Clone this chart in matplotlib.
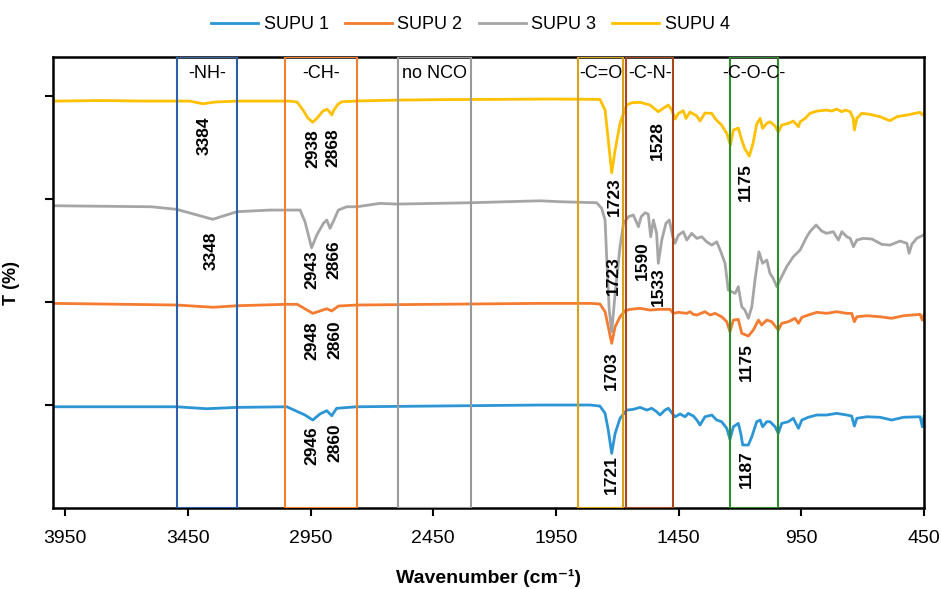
#!/usr/bin/env python3

import matplotlib
matplotlib.use("Agg")
import matplotlib.pyplot as plt

plt.rcParams["font.family"] = ["Liberation Sans", "DejaVu Sans"]

SERIES_NAMES = ["SUPU 1", "SUPU 2", "SUPU 3", "SUPU 4"]
SERIES_COLORS = ["#2B95D6", "#F47B30", "#A5A5A5", "#FFC000"]

# spectra: (wavenumber, stacked T value)
supu1_wn = [4000, 3496, 3374, 3250, 3047, 2973, 2941, 2912, 2884, 2864, 2844, 2762, 2015, 1811,
            1771, 1750, 1737, 1723, 1709, 1689, 1662, 1635, 1607, 1580, 1560, 1540, 1526, 1506,
            1492, 1478, 1465, 1444, 1424, 1411, 1390, 1376, 1363, 1343, 1315, 1295, 1275, 1254,
            1241, 1227, 1207, 1197, 1189, 1166, 1152, 1132, 1118, 1108, 1091, 1078, 1057, 1044,
            1030, 1003, 983, 962, 948, 922, 887, 847, 806, 765, 745, 734, 724, 683, 629, 582,
            534, 466, 457, 450]
supu1_t = [0.983, 0.983, 0.964, 0.977, 0.983, 0.903, 0.854, 0.913, 0.945, 0.896, 0.968, 0.983,
           1.000, 1.000, 0.990, 0.919, 0.757, 0.531, 0.725, 0.871, 0.951, 0.958, 0.977, 0.951,
           0.968, 0.935, 0.903, 0.951, 0.968, 0.925, 0.886, 0.913, 0.886, 0.919, 0.893, 0.854,
           0.806, 0.886, 0.903, 0.854, 0.838, 0.774, 0.667, 0.789, 0.822, 0.725, 0.612, 0.612,
           0.692, 0.838, 0.854, 0.789, 0.838, 0.838, 0.789, 0.725, 0.822, 0.838, 0.871, 0.774,
           0.854, 0.881, 0.903, 0.903, 0.919, 0.903, 0.893, 0.796, 0.871, 0.886, 0.881, 0.854,
           0.881, 0.886, 0.789, 0.890]

supu2_wn = [4000, 3496, 3347, 3250, 3047, 3005, 2941, 2884, 2864, 2837, 2762, 2015, 1811, 1771,
            1750, 1737, 1723, 1709, 1689, 1669, 1648, 1607, 1567, 1526, 1485, 1472, 1451, 1417,
            1404, 1390, 1376, 1343, 1322, 1302, 1275, 1254, 1241, 1227, 1207, 1193, 1166, 1146,
            1125, 1112, 1091, 1071, 1044, 1030, 1003, 976, 962, 948, 922, 887, 847, 806, 765,
            745, 734, 724, 683, 629, 582, 534, 466, 457, 450]
supu2_t = [1.987, 1.971, 1.949, 1.964, 1.978, 1.978, 1.890, 1.935, 1.913, 1.961, 1.971, 1.987,
           1.987, 1.981, 1.906, 1.760, 1.599, 1.760, 1.857, 1.915, 1.929, 1.939, 1.922, 1.929,
           1.929, 1.890, 1.900, 1.890, 1.906, 1.880, 1.874, 1.906, 1.874, 1.890, 1.857, 1.809,
           1.712, 1.825, 1.832, 1.696, 1.670, 1.728, 1.825, 1.777, 1.825, 1.809, 1.728, 1.793,
           1.809, 1.842, 1.793, 1.851, 1.874, 1.900, 1.890, 1.906, 1.890, 1.890, 1.809, 1.857,
           1.867, 1.857, 1.842, 1.867, 1.880, 1.825, 1.880]

supu3_wn = [4000, 3800, 3600, 3496, 3420, 3349, 3300, 3250, 3116, 3047, 2993, 2973, 2946, 2925,
            2898, 2884, 2871, 2858, 2837, 2803, 2762, 2667, 2599, 2300, 2015, 1934, 1784, 1764,
            1750, 1743, 1733, 1723, 1709, 1689, 1675, 1655, 1635, 1614, 1603, 1587, 1574, 1564,
            1553, 1540, 1533, 1519, 1502, 1488, 1474, 1465, 1451, 1431, 1417, 1397, 1376, 1356,
            1336, 1315, 1295, 1281, 1261, 1248, 1234, 1220, 1207, 1193, 1180, 1166, 1152, 1139,
            1123, 1108, 1091, 1078, 1065, 1050, 1037, 1010, 983, 955, 928, 915, 890, 867, 847,
            820, 799, 785, 765, 751, 738, 724, 697, 663, 622, 589, 548, 520, 511, 500, 480, 453]
supu3_t = [2.935, 2.930, 2.925, 2.900, 2.850, 2.803, 2.840, 2.877, 2.893, 2.893, 2.893, 2.780,
           2.527, 2.650, 2.764, 2.796, 2.716, 2.780, 2.893, 2.925, 2.925, 2.958, 2.951, 2.964,
           2.983, 2.974, 2.964, 2.910, 2.796, 2.408, 1.922, 1.709, 2.084, 2.537, 2.764, 2.828,
           2.845, 2.731, 2.828, 2.867, 2.854, 2.634, 2.796, 2.667, 2.376, 2.602, 2.764, 2.796,
           2.634, 2.570, 2.650, 2.683, 2.602, 2.667, 2.618, 2.634, 2.585, 2.553, 2.585, 2.505,
           2.376, 2.117, 2.100, 2.084, 2.149, 1.954, 1.922, 1.842, 1.954, 2.214, 2.488, 2.376,
           2.408, 2.279, 2.230, 2.149, 2.214, 2.343, 2.440, 2.505, 2.634, 2.683, 2.748, 2.689,
           2.667, 2.683, 2.602, 2.683, 2.634, 2.618, 2.537, 2.602, 2.618, 2.612, 2.560, 2.553,
           2.592, 2.570, 2.473, 2.560, 2.618, 2.650]

supu4_wn = [4000, 3808, 3605, 3442, 3389, 3340, 3250, 3116, 3034, 3005, 2981, 2961, 2941, 2920,
            2900, 2884, 2875, 2864, 2855, 2838, 2822, 2749, 2586, 2382, 2178, 1974, 1771, 1750,
            1737, 1723, 1709, 1689, 1662, 1641, 1607, 1567, 1533, 1513, 1492, 1478, 1465, 1451,
            1431, 1420, 1404, 1376, 1363, 1343, 1315, 1302, 1288, 1275, 1254, 1239, 1227, 1207,
            1193, 1180, 1162, 1147, 1132, 1118, 1108, 1091, 1078, 1057, 1044, 1030, 1003, 983,
            962, 955, 935, 915, 887, 847, 826, 806, 785, 772, 751, 739, 734, 724, 704, 670, 629,
            589, 561, 520, 466, 457, 450]
supu4_t = [3.951, 3.956, 3.951, 3.951, 3.925, 3.942, 3.951, 3.951, 3.951, 3.942, 3.864, 3.786,
           3.745, 3.796, 3.854, 3.871, 3.854, 3.816, 3.864, 3.922, 3.945, 3.953, 3.961, 3.966,
           3.968, 3.971, 3.968, 3.864, 3.573, 3.255, 3.476, 3.735, 3.913, 3.935, 3.939, 3.913,
           3.848, 3.881, 3.913, 3.864, 3.777, 3.832, 3.857, 3.783, 3.845, 3.806, 3.757, 3.835,
           3.832, 3.783, 3.748, 3.718, 3.638, 3.524, 3.670, 3.689, 3.573, 3.485, 3.417, 3.541,
           3.728, 3.783, 3.686, 3.735, 3.750, 3.709, 3.650, 3.718, 3.735, 3.757, 3.702, 3.750,
           3.783, 3.832, 3.854, 3.864, 3.854, 3.874, 3.848, 3.864, 3.848, 3.786, 3.670, 3.783,
           3.832, 3.822, 3.799, 3.760, 3.799, 3.816, 3.842, 3.816, 3.835]

# band boxes: label, wavenumber from, wavenumber to, colour
band_names = ["-NH-", "-CH-", "no NCO", "-C=O", "-C-N-", "-C-O-C-"]
band_from = [3496, 3054, 2595, 1859, 1664, 1241]
band_to = [3251, 2762, 2298, 1675, 1472, 1044]
band_colors = ["#2E5FA8", "#F08030", "#9A9A9A", "#D9A21B", "#A9461A", "#2E8B2E"]

# peak annotations: text, wavenumber, height
peak_text = ["3384", "2938", "2868", "1723", "1528", "1175",
             "3348", "2943", "2866", "1723", "1590", "1533",
             "2948", "2860", "1703", "1175",
             "2946", "2860", "1721", "1187"]
peak_wn = [3385, 2942, 2859, 1713, 1538, 1180,
           3356, 2946, 2857, 1718, 1599, 1534,
           2946, 2853, 1724, 1173,
           2946, 2853, 1724, 1173]
peak_t = [3.612, 3.485, 3.495, 3.019, 3.563, 3.165,
          2.495, 2.311, 2.408, 2.252, 2.398, 2.146,
          1.621, 1.631, 1.330, 1.417,
          0.602, 0.631, 0.320, 0.379]

x_ticks = [3950, 3450, 2950, 2450, 1950, 1450, 950, 450]
y_ticks = [1, 2, 3, 4]


def main():
    fig = plt.figure(figsize=(9.41, 5.89), dpi=100)
    ax = fig.add_axes([0.0563, 0.1375, 0.9257, 0.7657])

    spectra = [(supu1_wn, supu1_t), (supu2_wn, supu2_t), (supu3_wn, supu3_t), (supu4_wn, supu4_t)]
    for (wn, t), name, color in zip(spectra, SERIES_NAMES, SERIES_COLORS):
        ax.plot(wn, t, color=color, lw=2.0, label=name, solid_joinstyle="round")

    # coloured boxes around the bands
    for name, x0, x1, color in zip(band_names, band_from, band_to, band_colors):
        ax.axvspan(x0, x1, fill=False, edgecolor=color, lw=1.5, zorder=3)
        ax.text((x0 + x1) / 2, 4.223, name, ha="center", va="center", fontsize=13)

    for txt, x, y in zip(peak_text, peak_wn, peak_t):
        ax.text(x, y, txt, rotation=90, ha="center", va="center",
                fontsize=12.5, fontweight="bold")

    ax.set_xlim(4000, 450)
    ax.set_ylim(0, 4.379)
    ax.set_xticks(x_ticks)
    ax.set_xticklabels([str(v) for v in x_ticks], fontsize=14)
    ax.set_yticks(y_ticks)
    ax.set_yticklabels([])
    ax.tick_params(axis="both", direction="out", length=6, width=1.5)
    ax.tick_params(axis="x", pad=10)
    for sp in ax.spines.values():
        sp.set_linewidth(1.8)
        sp.set_color("black")

    ax.set_xlabel("Wavenumber (cm⁻¹)", fontsize=14, fontweight="bold", labelpad=16)
    ax.set_ylabel("T (%)", fontsize=13, fontweight="bold", labelpad=14)

    fig.legend(loc="upper center", bbox_to_anchor=(0.5, 1.0), ncol=4, frameon=False,
               fontsize=13, handlelength=2.6, columnspacing=0.9, handletextpad=0.3)

    fig.savefig("out.png", dpi=100)


if __name__ == "__main__":
    main()
